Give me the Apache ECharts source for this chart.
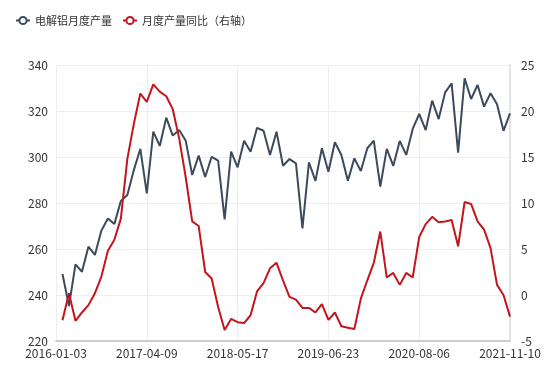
<!DOCTYPE html>
<html>
<head>
<meta charset="utf-8">
<script src="https://cdn.jsdelivr.net/npm/echarts@6/dist/echarts.min.js"></script>
<style>
  html, body { margin: 0; padding: 0; background: #fff; }
  #chart { width: 550px; height: 377px; }
</style>
</head>
<body>
<div id="chart"></div>
<script>
// 日期（类目轴）
const dates = [
  '2016-01-03', '2016-02-04', '2016-03-07', '2016-04-08', '2016-05-10', '2016-06-11', '2016-07-13',
  '2016-08-14', '2016-09-15', '2016-10-17', '2016-11-18', '2016-12-20', '2017-01-21', '2017-03-05',
  '2017-04-09', '2017-05-08', '2017-06-06', '2017-07-05', '2017-08-03', '2017-09-01', '2017-09-30',
  '2017-10-29', '2017-11-27', '2017-12-26', '2018-01-24', '2018-02-22', '2018-03-23', '2018-04-19',
  '2018-05-17', '2018-06-15', '2018-07-14', '2018-08-12', '2018-09-10', '2018-10-09', '2018-11-07',
  '2018-12-06', '2019-01-04', '2019-02-02', '2019-03-03', '2019-04-01', '2019-04-30', '2019-05-27',
  '2019-06-23', '2019-07-23', '2019-08-22', '2019-09-20', '2019-10-20', '2019-11-18', '2019-12-18',
  '2020-01-16', '2020-02-15', '2020-03-15', '2020-04-13', '2020-05-12', '2020-06-10', '2020-07-09',
  '2020-08-06', '2020-09-08', '2020-10-10', '2020-11-11', '2020-12-13', '2021-01-14', '2021-02-15',
  '2021-03-19', '2021-04-20', '2021-05-22', '2021-06-23', '2021-07-25', '2021-08-26', '2021-09-27',
  '2021-11-10'
]

// 电解铝月度产量（左轴）
const output = [
  null,
  249.1, 235.2, 253.3, 250.1, 261.0, 257.4, 268.0, 273.3, 270.9, 280.9,
  283.5, 294.3, 303.5, 284.2, 311.0, 304.8, 317.1, 309.3, 311.7, 307.1,
  292.2, 300.6, 291.3, 300.1, 298.4, 272.9, 302.3, 295.5, 307.1, 302.3,
  312.7, 311.4, 300.9, 311.0, 296.2, 299.1, 297.2, 269.0, 297.7, 289.6,
  303.8, 293.6, 306.4, 300.9, 289.7, 299.4, 293.9, 303.8, 307.1, 287.1,
  303.5, 296.1, 307.0, 300.9, 312.2, 318.7, 311.7, 324.5, 316.5, 328.1,
  332.0, 301.9, 334.2, 325.2, 331.3, 321.9, 327.7, 322.9, 311.4, 319.0
]

// 月度产量同比（右轴）
const yoy = [
  null,
  -2.75, 0.2, -2.8, -1.9, -1.1, 0.2, 2.0, 4.8, 6.0, 8.3,
  14.8, 18.6, 21.9, 21.0, 22.9, 22.1, 21.6, 20.2, 17.0, 12.8,
  8.0, 7.5, 2.5, 1.8, -1.3, -3.8, -2.6, -2.95, -3.05, -2.2,
  0.4, 1.3, 2.9, 3.5, 1.6, -0.2, -0.5, -1.4, -1.4, -1.9,
  -1.0, -2.7, -1.9, -3.4, -3.55, -3.7, -0.4, 1.6, 3.5, 6.9,
  1.9, 2.4, 1.1, 2.4, 1.9, 6.3, 7.7, 8.5, 7.9, 8.0,
  8.15, 5.3, 10.1, 9.9, 8.0, 7.1, 5.1, 1.1, 0.0, -2.35
]

const FONT = '"Microsoft YaHei", "Noto Sans CJK SC", sans-serif'
const chart = echarts.init(document.getElementById('chart'))

const option = {
  animation: false,
  textStyle: { fontFamily: FONT },
  color: ['#3b4a5c', '#c3161c'],
  legend: {
    left: 10,
    top: 10,
    itemWidth: 14,
    itemHeight: 9,
    itemGap: 10,
    textStyle: { fontSize: 11, color: '#333', fontFamily: FONT },
    data: ['电解铝月度产量', '月度产量同比（右轴）']
  },
  grid: { left: 56, right: 40, top: 65, bottom: 36 },
  xAxis: {
    type: 'category',
    data: dates,
    boundaryGap: false,
    axisLine: { show: true, onZero: false, lineStyle: { color: '#ccc', width: 2 } },
    axisTick: { show: false },
    axisLabel: { interval: 13, color: '#333', fontSize: 12, margin: 6 },
    splitLine: { show: true, interval: 13, lineStyle: { color: '#eee' } }
  },
  yAxis: [
    {
      type: 'value',
      min: 220, max: 340, interval: 20,
      axisLine: { show: false },
      axisTick: { show: false },
      axisLabel: { color: '#333', fontSize: 12, margin: 8 },
      splitLine: { lineStyle: { color: '#eee' } }
    },
    {
      type: 'value',
      min: -5, max: 25, interval: 5,
      position: 'right',
      axisLine: { show: true, lineStyle: { color: '#e3e3e3', width: 2 } },
      axisTick: { show: false },
      axisLabel: { color: '#333', fontSize: 12, margin: 11 },
      splitLine: { show: false }
    }
  ],
  series: [
    {
      name: '电解铝月度产量',
      type: 'line',
      yAxisIndex: 0,
      data: output,
      symbol: 'emptyCircle',
      showSymbol: false,
      lineStyle: { width: 2 }
    },
    {
      name: '月度产量同比（右轴）',
      type: 'line',
      yAxisIndex: 1,
      data: yoy,
      symbol: 'emptyCircle',
      showSymbol: false,
      lineStyle: { width: 2 }
    }
  ]
}

chart.setOption(option)
</script>
</body>
</html>
